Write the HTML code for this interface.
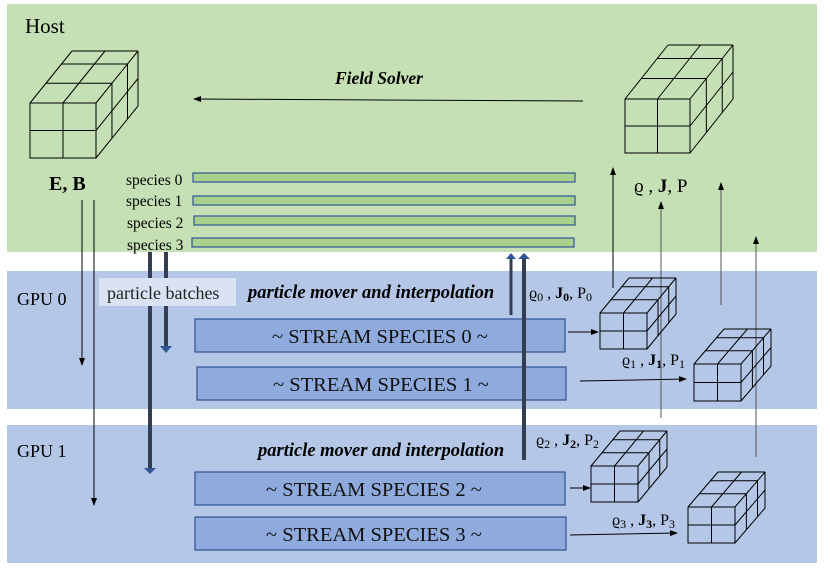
<!DOCTYPE html>
<html><head><meta charset="utf-8"><style>
body{margin:0;background:#fff;}
svg{display:block;font-family:"Liberation Serif",serif;}
</style></head><body>
<svg id="s" width="830" height="574" viewBox="0 0 830 574" xmlns="http://www.w3.org/2000/svg">
<defs>
<marker id="a" markerWidth="8" markerHeight="8" refX="7" refY="4" orient="auto" markerUnits="userSpaceOnUse"><path d="M0,1 L8,4 L0,7 z" fill="#000"/></marker>
</defs>
<rect x="7" y="4" width="810" height="248" fill="#c5e0b4"/>
<rect x="7" y="271" width="810" height="138" fill="#b4c7e7"/>
<rect x="7" y="425" width="810" height="138" fill="#b4c7e7"/>
<text x="25" y="33" font-size="21">Host</text>
<text x="17" y="305" font-size="18">GPU 0</text>
<text x="17" y="457" font-size="18">GPU 1</text>
<text x="335" y="84" font-size="17.5" font-weight="bold" font-style="italic">Field Solver</text>
<line x1="583" y1="101" x2="194" y2="99" stroke="#000" stroke-width="1" marker-end="url(#a)"/>
<text x="49" y="190" font-size="20" font-weight="bold">E, B</text>
<g font-size="15.5">
<text x="126" y="185">species 0</text><text x="126" y="206">species 1</text>
<text x="127" y="228">species 2</text><text x="127" y="250">species 3</text>
</g>
<g fill="#a9d18e" stroke="#2f5597" stroke-width="1.2">
<rect x="193" y="173" width="382" height="9"/><rect x="193" y="196" width="382" height="9"/>
<rect x="194" y="216" width="381" height="9"/><rect x="192" y="238" width="382" height="9"/>
</g>
<g fill="#8faadc" stroke="#2f528f" stroke-width="1.2">
<rect x="195" y="319" width="370" height="33"/><rect x="197" y="367" width="369" height="33"/>
<rect x="195" y="472" width="370" height="33"/><rect x="195" y="517" width="371" height="33"/>
</g>
<g font-size="20.5" fill="#111">
<text x="272" y="343">~ STREAM SPECIES 0 ~</text>
<text x="273" y="391">~ STREAM SPECIES 1 ~</text>
<text x="266" y="496">~  STREAM SPECIES 2 ~</text>
<text x="266" y="541">~  STREAM SPECIES 3 ~</text>
</g>
<text x="248" y="298" font-size="18.5" font-weight="bold" font-style="italic">particle mover and interpolation</text>
<text x="258" y="456" font-size="18.5" font-weight="bold" font-style="italic">particle mover and interpolation</text>
<line x1="82" y1="200" x2="82" y2="365" stroke="#000" marker-end="url(#a)"/>
<line x1="94" y1="200" x2="94" y2="505" stroke="#000" marker-end="url(#a)"/>
<line x1="150" y1="252" x2="150" y2="470" stroke="#333f50" stroke-width="4"/>
<line x1="166" y1="252" x2="166" y2="348" stroke="#333f50" stroke-width="4"/>
<path d="M160,346 L172,346 L166,353 z" fill="#2f5597"/>
<path d="M144,468 L156,468 L150,474 z" fill="#2f5597"/>
<rect x="99" y="278" width="137" height="28" fill="#dae3f3"/>
<text x="107" y="299" font-size="18" fill="#222">particle batches</text>
<line x1="511" y1="315" x2="511" y2="258" stroke="#333f50" stroke-width="3"/>
<line x1="524" y1="460" x2="524" y2="258" stroke="#333f50" stroke-width="4"/>
<path d="M506,259 L516,259 L511,253 z" fill="#2f5597"/>
<path d="M518,259 L530,259 L524,253 z" fill="#2f5597"/>
<g stroke="#000" stroke-width="1">
<line x1="613" y1="288" x2="613" y2="168" marker-end="url(#a)"/>
<line x1="661" y1="418" x2="661" y2="202" marker-end="url(#a)" stroke="#555"/>
<line x1="721" y1="305" x2="721" y2="183" marker-end="url(#a)" stroke="#555"/>
<line x1="756" y1="457" x2="756" y2="237" marker-end="url(#a)" stroke="#555"/>
<line x1="568" y1="332" x2="598" y2="332" marker-end="url(#a)"/>
<line x1="580" y1="381" x2="686" y2="379" marker-end="url(#a)"/>
<line x1="570" y1="488" x2="590" y2="488" marker-end="url(#a)"/>
<line x1="570" y1="535" x2="677" y2="533" marker-end="url(#a)"/>
</g>
<text x="634" y="192" font-size="19">ϱ , <tspan font-weight="bold">J</tspan>, P</text>
<g font-size="16">
<text x="529" y="298">ϱ<tspan font-size="12" dy="3">0</tspan><tspan dy="-3"> , </tspan><tspan font-weight="bold">J<tspan font-size="12" dy="3">0</tspan></tspan><tspan dy="-3">, P</tspan><tspan font-size="12" dy="3">0</tspan></text>
<text x="622" y="365">ϱ<tspan font-size="12" dy="3">1</tspan><tspan dy="-3"> , </tspan><tspan font-weight="bold">J<tspan font-size="12" dy="3">1</tspan></tspan><tspan dy="-3">, P</tspan><tspan font-size="12" dy="3">1</tspan></text>
<text x="536" y="445">ϱ<tspan font-size="12" dy="3">2</tspan><tspan dy="-3"> , </tspan><tspan font-weight="bold">J<tspan font-size="12" dy="3">2</tspan></tspan><tspan dy="-3">, P</tspan><tspan font-size="12" dy="3">2</tspan></text>
<text x="612" y="525">ϱ<tspan font-size="12" dy="3">3</tspan><tspan dy="-3"> , </tspan><tspan font-weight="bold">J<tspan font-size="12" dy="3">3</tspan></tspan><tspan dy="-3">, P</tspan><tspan font-size="12" dy="3">3</tspan></text>
</g>
<g id="cubes" fill="none" stroke="#000" stroke-width="1"></g>
</svg>
<script>
function cube(x,y,w,h,dx,dy){
 var p=[];
 function L(a,b,c,d){p.push('M'+a+','+b+'L'+c+','+d);}
 p.push('M'+x+','+y+'h'+w+'v'+h+'h'+(-w)+'z');
 L(x+w/2,y,x+w/2,y+h); L(x,y+h/2,x+w,y+h/2);
 L(x,y,x+dx,y+dy); L(x+w,y,x+w+dx,y+dy); L(x+dx,y+dy,x+w+dx,y+dy);
 L(x+w/2,y,x+w/2+dx,y+dy);
 var fs=[0.38,0.75];
 fs.forEach(function(f){
  L(x+dx*f,y+dy*f,x+w+dx*f,y+dy*f);
  L(x+w+dx*f,y+dy*f,x+w+dx*f,y+h+dy*f);
 });
 L(x+w+dx,y+dy,x+w+dx,y+h+dy); L(x+w,y+h,x+w+dx,y+h+dy);
 L(x+w,y+h/2,x+w+dx,y+h/2+dy);
 return '<path d="'+p.join('')+'"/>';
}
document.getElementById('cubes').innerHTML=
 cube(30,103,66,55,42,-52)+cube(625,99,65,54,43,-54)+
 cube(600,313,47,36,29,-35)+cube(694,364,47,37,30,-35)+
 cube(591,466,47,36,29,-35)+cube(688,507,47,36,30,-35);
</script>
</body></html>
